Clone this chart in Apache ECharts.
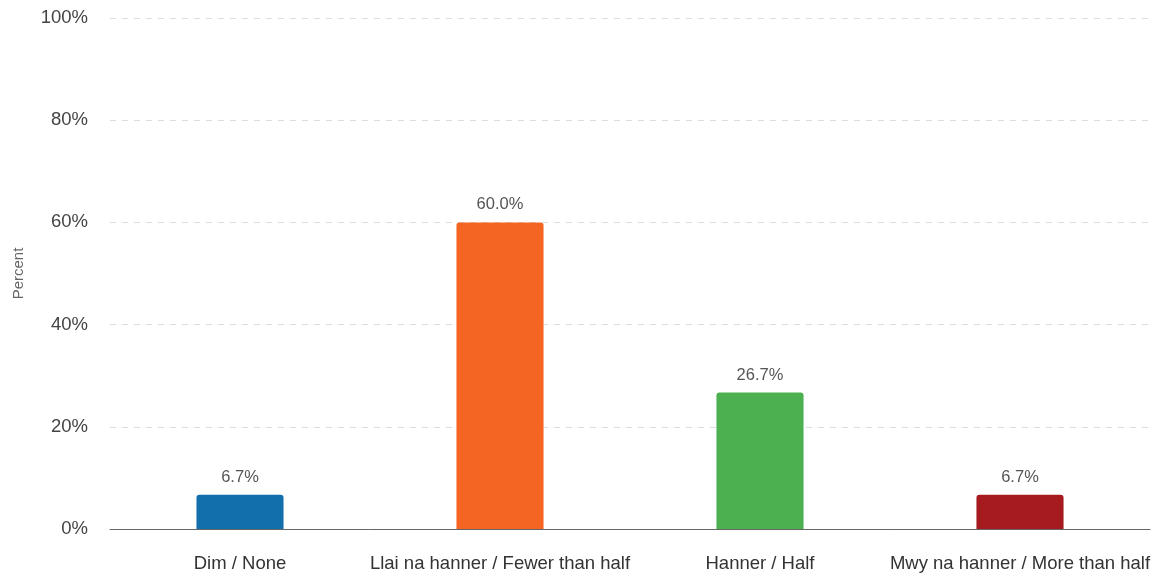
<!DOCTYPE html>
<html><head><meta charset="utf-8">
<script src="https://cdn.jsdelivr.net/npm/echarts@6/dist/echarts.min.js"></script>
<style>html,body{margin:0;padding:0;background:#fff}#c{width:1160px;height:576px}</style>
</head><body><div id="c"></div>
<script>
const categories = ["Dim / None", "Llai na hanner / Fewer than half", "Hanner / Half", "Mwy na hanner / More than half"];
const values = [6.7, 60.0, 26.7, 6.7];
const barColors = ["#136fab", "#f46523", "#4cb050", "#a51b1f"];
const yTicks = [0, 20, 40, 60, 80, 100];

const chart = echarts.init(document.getElementById('c'));
chart.setOption({
  animation: false,
  textStyle: { fontFamily: 'Liberation Sans, Arial, sans-serif' },
  grid: { left: 110, right: 10, top: 18, bottom: 47, containLabel: false },
  xAxis: {
    type: 'category', data: categories,
    axisLine: { lineStyle: { color: '#666', width: 1 } },
    axisTick: { show: false },
    axisLabel: { color: '#333', fontSize: 18.5, margin: 25, interval: 0 }
  },
  yAxis: {
    type: 'value', min: yTicks[0], max: yTicks[yTicks.length - 1], interval: 20,
    name: 'Percent', nameLocation: 'middle', nameGap: 84, nameRotate: 90,
    nameTextStyle: { color: '#666', fontSize: 15 },
    axisLine: { show: false }, axisTick: { show: false },
    axisLabel: { color: '#444', fontSize: 18.5, margin: 22, formatter: v => v + '%' },
    splitLine: { lineStyle: { color: '#ddd', type: [6, 6], width: 1 } }
  },
  series: [{
    type: 'bar', barWidth: '33.5%',
    data: values.map((v, i) => ({ value: v, itemStyle: { color: barColors[i], borderRadius: [3, 3, 0, 0] } })),
    label: { show: true, position: 'top', distance: 9, color: '#555', fontSize: 16.5, formatter: p => p.value.toFixed(1) + '%' }
  }]
});
</script></body></html>
